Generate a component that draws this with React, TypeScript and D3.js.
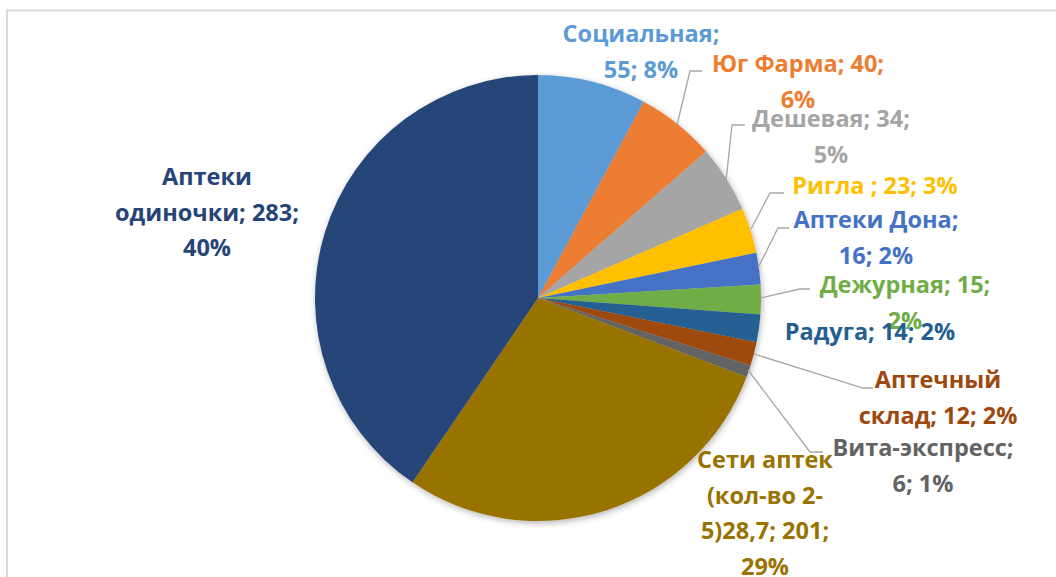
import React from "react";
import * as d3 from "d3";

const categories = [
  "Социальная",
  "Юг Фарма",
  "Дешевая",
  "Ригла ",
  "Аптеки Дона",
  "Дежурная",
  "Радуга",
  "Аптечный склад",
  "Вита-экспресс",
  "Сети аптек (кол-во 2-5)28,7",
  "Аптеки одиночки",
];
const values = [55, 40, 34, 23, 16, 15, 14, 12, 6, 201, 283];
const colors = [
  "#5B9BD5",
  "#ED7D31",
  "#A5A5A5",
  "#FFC000",
  "#4472C4",
  "#70AD47",
  "#255E91",
  "#9E480E",
  "#636363",
  "#997300",
  "#264478",
];

// layout: label centre x, first baseline y, line-break char offsets, leader polyline
const labelLayout: { x: number; y: number; breaks: number[]; leader?: [number, number][] }[] = [
  { x: 641, y: 42, breaks: [12] },
  { x: 798, y: 72, breaks: [14], leader: [[677, 125], [690, 71], [702, 71]] },
  { x: 831, y: 127, breaks: [13], leader: [[726, 181], [732, 125], [745, 125]] },
  { x: 875, y: 194, breaks: [], leader: [[751, 229], [770, 193], [784, 193]] },
  { x: 876, y: 228, breaks: [13], leader: [[758, 268], [778, 228], [789, 228]] },
  { x: 905, y: 293, breaks: [14], leader: [[760, 298], [800, 289], [810, 289]] },
  { x: 870, y: 340, breaks: [] },
  { x: 938, y: 388, breaks: [9], leader: [[754, 354], [863, 388], [873, 388]] },
  { x: 923, y: 456, breaks: [15], leader: [[748, 370], [810, 452], [823, 452]] },
  { x: 765, y: 468, breaks: [11, 21, 34] },
  { x: 207, y: 185, breaks: [7, 22] },
];

const W = 1056;
const H = 577;
const cx = 538;
const cy = 298;
const R = 223;
const lineH = 35.5;

function splitAt(s: string, breaks: number[]): string[] {
  const out: string[] = [];
  let prev = 0;
  for (const b of breaks) {
    out.push(s.slice(prev, b).trim());
    prev = b;
  }
  out.push(s.slice(prev).trim());
  return out;
}

export default function App() {
  const total = d3.sum(values);
  const pie = d3
    .pie<number>()
    .sort(null)
    .startAngle(0)
    .endAngle(2 * Math.PI)
    .value((d) => d);
  const arcs = pie(values);
  const arc = d3.arc<d3.PieArcDatum<number>>().innerRadius(0).outerRadius(R);
  const line = d3.line();

  return (
    <svg
      width={W}
      height={H}
      style={{ position: "absolute", left: 0, top: 0, background: "#fff" }}
      fontFamily="'Open Sans', Lato, sans-serif"
      fontWeight="bold"
    >
      <defs>
        <filter id="sh" x="-20%" y="-20%" width="140%" height="140%">
          <feDropShadow dx="1" dy="2" stdDeviation="3" floodColor="#000" floodOpacity="0.3" />
        </filter>
      </defs>
      <rect x={7} y={10.5} width={1200} height={700} fill="#fff" stroke="#d9d9d9" strokeWidth={2} />
      <g transform={`translate(${cx},${cy})`} filter="url(#sh)">
        {arcs.map((a, i) => (
          <path key={i} d={arc(a) || ""} fill={colors[i]} />
        ))}
      </g>
      {labelLayout.map((L, i) =>
        L.leader ? (
          <path key={"l" + i} d={line(L.leader) || ""} fill="none" stroke="#A6A6A6" strokeWidth={1.3} />
        ) : null
      )}
      {categories.map((c, i) => {
        const pct = Math.round((values[i] / total) * 100);
        const full = `${c}; ${values[i]}; ${pct}%`;
        const lines = splitAt(full, labelLayout[i].breaks);
        return (
          <text
            key={"t" + i}
            x={labelLayout[i].x}
            y={labelLayout[i].y}
            fill={colors[i]}
            fontSize={23.5}
            textAnchor="middle"
          >
            {lines.map((ln, j) => (
              <tspan key={j} x={labelLayout[i].x} dy={j === 0 ? 0 : lineH} style={{ whiteSpace: "pre" }}>
                {ln}
              </tspan>
            ))}
          </text>
        );
      })}
    </svg>
  );
}
